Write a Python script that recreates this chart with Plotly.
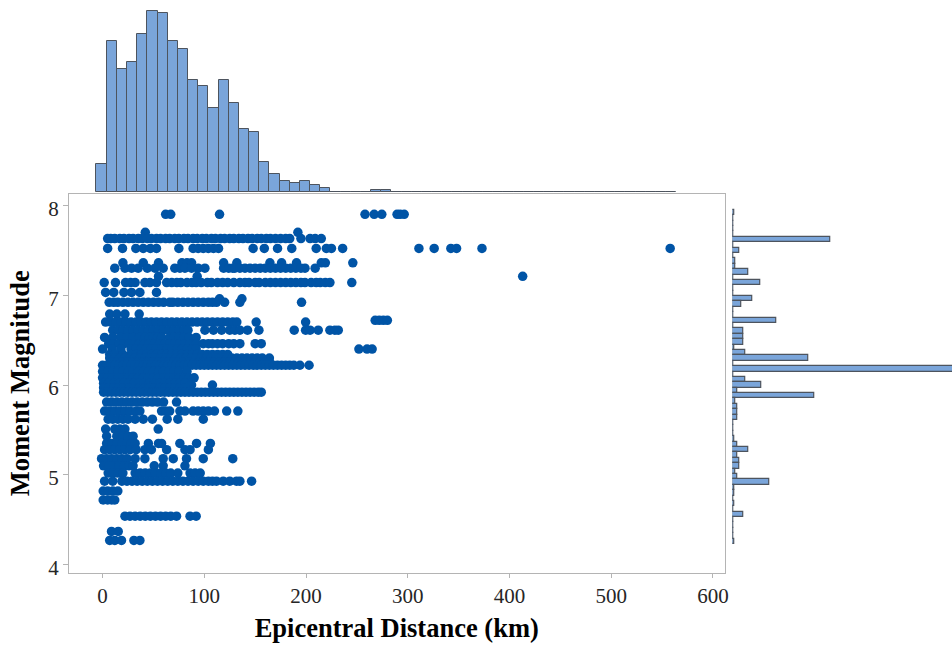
import plotly.graph_objects as go

# Top histogram: epicentral distance bins (10 km wide), left edge of first bin -6 km
dist_bin_centers = [-1, 9, 19, 29, 39, 49, 59, 69, 79, 89, 99, 109, 119, 129, 139, 149, 159, 169, 179, 189, 199, 209, 219,
                    229, 239, 249, 259, 269, 279, 289, 299, 309, 319, 329, 339, 349, 359, 369, 379, 389, 399, 409, 419,
                    429, 439, 449, 459, 469, 479, 489, 499, 509, 519, 529, 539, 549, 559]
dist_counts = [28, 151, 123, 130.7, 158.7, 181, 179, 151, 143.7, 112, 106.3, 84, 112, 89.7, 63.7, 60, 30, 18.7, 11.3, 9.3, 11.3, 7.7, 4,
               .3, .3, .3, .3, 2, 2, .3, .3, .3, .3, .3, .3, .3, .3, .3, .3, .3, .3, .3, .3,
               .3, .3, .3, .3, .3, .3, .3, .3, .3, .3, .3, .3, .3, .3]

# Right histogram: magnitude bins (0.06 wide)
mag_bin_centers = [7.92, 7.86, 7.80, 7.74, 7.68, 7.62, 7.56, 7.50, 7.44, 7.38, 7.32, 7.26, 7.20, 7.14, 7.08, 7.02, 6.96, 6.90, 6.84,
                   6.78, 6.72, 6.66, 6.60, 6.54, 6.48, 6.42, 6.36, 6.30, 6.24, 6.18, 6.12, 6.06, 6.00, 5.94, 5.88, 5.82, 5.76,
                   5.70, 5.64, 5.58, 5.52, 5.46, 5.40, 5.34, 5.28, 5.22, 5.16, 5.10, 5.04, 4.98, 4.92, 4.86, 4.80, 4.74, 4.68,
                   4.62, 4.56, 4.50, 4.44, 4.38, 4.32, 4.26]
mag_counts = [1.7, 1, 1, 1, 1, 98.3, 1, 7, 1, 3, 3, 16.3, 1, 27.7, 1, 1, 20.3, 9, 1,
              1, 44.3, 1, 11, 11, 11, 2, 13, 76, 1, 240, 1, 13, 29.3, 5, 82, 3.3, 5,
              5, 5, 1, 1, 1, 1.7, 5, 16.3, 5, 7, 7, 3, 5, 37, 1.7, 1.7, 1, 1.7,
              1, 11, 1, 1, 1, 1, 1.7]

# Scatter rows: magnitude values and the distances (km) recorded at that magnitude
m790 = [62, 67, 115, 258, 267, 274.5, 289.5, 292.5, 296.5]
m770 = [42, 192]
m763 = [5, 8, 12, 17, 21, 26, 30, 35, 39, 44, 48, 53, 57, 62, 66, 71, 75, 80, 84, 89, 93, 98, 102, 107, 111, 116, 120, 125, 129,
        134, 138, 143, 147, 152, 156, 161, 165, 170, 175, 180, 184, 195, 204, 209, 215]
m752 = [5, 19.6, 32.7, 40, 47, 53, 75, 89, 94, 99, 104, 109, 114, 148, 159, 172, 186, 210, 220, 225, 236, 311, 326, 342.4, 348, 373, 558]
m736 = [20, 40, 55, 78, 83, 87.5, 119, 132, 164.5, 176, 190.7, 215, 219, 246]
m730 = [12, 22, 28.5, 35, 44, 51.5, 59.6, 71, 76, 81, 87.5, 94, 100.6, 119, 124, 128, 130, 135, 140, 145, 150, 155, 160, 165, 170, 175,
        180, 185, 190, 195, 199, 209]
m722 = [55, 93, 413]
m714 = [1.6, 12.7, 22.6, 27.5, 32, 41.6, 46.5, 53, 63, 68, 73, 77, 83, 88, 92, 97, 103, 107, 113, 118, 123, 129, 135, 140, 144, 150,
        154, 160, 165, 170, 175, 180, 185, 190, 195, 199, 205, 210, 214, 219, 223.5, 245]
m703 = [3, 11, 21, 28.5, 36.7, 53]
m696 = [115, 137]
m692 = [6.5, 11, 15, 20, 25, 30, 35, 40, 45, 50, 55, 60, 66, 69, 74, 79, 84, 89, 94, 99, 104, 108, 112, 120, 135, 195.6]
m679 = [7, 14, 22, 36]
m672 = [268, 272, 276, 280]
m670 = [3, 8, 13, 18, 23, 28, 33, 38, 43, 48, 53, 58, 63, 68, 73, 78, 83, 88, 93, 98, 103, 108, 113, 118, 123, 128, 132, 151, 199.6]
m661 = [10, 15, 20, 25, 30, 35, 40, 45, 50, 55, 60, 65, 70, 75, 80, 84, 100.6, 109, 117, 125, 130, 135, 142.5, 153.7, 188.4, 199.6, 204,
        212, 223.5, 228.4, 231.7]
m653 = [2, 10, 18, 24, 30, 36, 42, 46, 50, 54, 58, 66, 70, 75, 80, 85, 92]
m646 = [6, 11, 16, 21, 26, 31, 36, 41, 46, 51, 56, 61, 66, 71, 76, 81, 86, 92, 99, 104, 108, 113, 118, 124, 129, 135, 150, 156]
m640 = [0, 9.5, 18, 28, 33, 38, 43, 48, 53, 58, 63, 68, 73, 78, 83, 88, 92, 252, 260, 265]
m634 = [7, 12, 20, 28, 33, 38, 43, 48, 53, 58, 63, 68, 73, 78, 83, 88, 93, 98, 103, 108, 113, 118, 123]
m630 = [7, 12, 17, 22, 27, 32, 37, 42, 47, 52, 57, 62, 67, 72, 77, 82, 87, 92, 97, 102, 107, 112, 117, 122, 127, 132, 137, 142, 147,
        152, 157, 164]
m626 = [10, 15, 20, 25, 30, 35, 40, 45, 50, 55, 60, 65, 70, 75, 80, 85, 90, 95, 100, 105, 110, 115, 120, 125, 130, 135, 140, 145,
        150, 155, 160, 164]
m622 = [0, 4, 8, 12, 16, 20, 24, 28, 32, 36, 40, 44, 48, 52, 56, 60, 64, 68, 72, 76, 80, 84, 88, 92, 96, 100, 104, 108, 112, 116, 120,
        124, 128, 132, 136, 140, 144, 148, 152, 156, 160, 164, 168, 172, 176, 180, 184, 188, 194, 203]
m615 = [0, 5, 10, 15, 20, 25, 30, 35, 40, 45, 50, 55, 60, 65, 70, 75, 83]
m608 = [0, 5, 10, 15, 20, 25, 30, 35, 40, 45, 50, 55, 60, 65, 70, 75, 80, 85, 90]
m602 = [1, 6, 11, 16, 21, 26, 31, 36, 41, 46, 51, 56, 61, 66, 71, 76, 81]
m600 = [87.5, 108]
m597 = [1, 6, 11, 16, 21, 26, 31, 36, 41, 46, 51, 56, 61, 66, 71, 76, 81]
m592 = [1, 5, 9, 13, 17, 21, 25, 29, 33, 37, 41, 45, 49, 53, 57, 61, 65, 69, 73, 77, 81, 85, 89, 93, 97, 101, 105, 109, 113, 117, 121,
        125, 129, 133, 137, 141, 145, 149, 153, 156]
m581 = [4, 9, 14, 19, 24, 29, 34, 39, 44, 49, 54, 60, 72.7]
m571 = [2, 7, 12, 17, 22, 27, 33, 36.7, 58, 62, 66, 76, 81, 89, 94, 99, 104, 110, 122, 133]
m562 = [5.5, 10, 15, 20, 25, 32, 40, 49, 63.5, 74, 99]
m551 = [3, 12, 17, 22, 54.7]
m543 = [4, 14, 20, 25, 30]
m535 = [4, 9, 14, 19, 24, 28, 32, 45, 55, 58, 76, 92.4, 106]
m528 = [2, 7, 12, 17, 22, 27, 33, 41.6, 48, 63, 81, 86, 104]
m518 = [-1, 4, 9, 14, 19, 24, 32, 41.6, 59.6, 69.5, 82.5, 99, 128]
m510 = [1, 6, 11, 16, 21, 26, 30, 50.8, 59.6, 81]
m502 = [5.5, 10, 15, 20, 32, 37, 42, 47, 52, 57, 62, 67, 74, 86, 91, 96]
m493 = [2, 10, 19, 24, 29, 34, 39, 44, 49, 54, 59, 64, 69, 74, 79, 84, 89, 94, 99, 104, 108, 112, 118.6, 125, 131.7, 135, 146.5]
m482 = [0.6, 5, 10, 15]
m472 = [0.6, 5, 9, 12]
m454 = [22, 27, 32, 37, 42, 47, 52, 57, 62, 67, 72.7, 86, 92]
m437 = [8.8, 15.4]
m427 = [7, 12, 18.6, 30.8, 36.7]

scatter_rows = [
    (7.90, m790), (7.70, m770), (7.63, m763), (7.52, m752), (7.36, m736), (7.30, m730), (7.21, m722), (7.14, m714),
    (7.03, m703), (6.96, m696), (6.92, m692), (6.79, m679), (6.72, m672), (6.70, m670), (6.61, m661), (6.53, m653),
    (6.46, m646), (6.40, m640), (6.34, m634), (6.30, m630), (6.26, m626), (6.22, m622), (6.15, m615), (6.08, m608),
    (6.02, m602), (6.00, m600), (5.97, m597), (5.92, m592), (5.81, m581), (5.71, m571), (5.62, m562), (5.51, m551),
    (5.43, m543), (5.35, m535), (5.28, m528), (5.18, m518), (5.10, m510), (5.02, m502), (4.93, m493), (4.82, m482),
    (4.72, m472), (4.54, m454), (4.37, m437), (4.27, m427),
]
scatter_x = [d for _, row in scatter_rows for d in row]
scatter_y = [m for m, row in scatter_rows for _ in row]

W, H = 952, 648
BAR_FILL = "#7aa5da"
BAR_LINE = "#4d545e"
FRAME = "#b4b4b4"
FONT = "Liberation Serif"
TICK_TEXT = "#262626"

fig = go.Figure()
fig.add_trace(go.Scatter(x=scatter_x, y=scatter_y, mode="markers",
                         marker=dict(size=9.5, color="#0054a6", line=dict(width=0)),
                         xaxis="x", yaxis="y", showlegend=False))
fig.add_trace(go.Bar(x=dist_bin_centers, y=dist_counts, width=10, cliponaxis=False,
                     marker=dict(color=BAR_FILL, line=dict(color=BAR_LINE, width=1)),
                     xaxis="x2", yaxis="y2", showlegend=False))
fig.add_trace(go.Bar(y=mag_bin_centers, x=mag_counts, width=0.06, orientation="h", cliponaxis=False,
                     marker=dict(color=BAR_FILL, line=dict(color=BAR_LINE, width=1.2)),
                     xaxis="x3", yaxis="y3", showlegend=False))

xr = [-33, 611.4]
yr = [3.913, 8.126]
xdom = [69 / W, 724.5 / W]
ydom = [1 - 572.5 / H, 1 - 194 / H]
fig.update_layout(
    template="none",
    width=W, height=H, margin=dict(l=0, r=0, t=0, b=0, pad=0), autosize=False,
    paper_bgcolor="white", plot_bgcolor="white",
    font=dict(family=FONT, color=TICK_TEXT),
    xaxis=dict(domain=xdom, range=xr, tickvals=[0, 100, 200, 300, 400, 500, 600], showgrid=False, zeroline=False, automargin=False,
               showline=True, mirror=True, linecolor=FRAME, linewidth=1.3, ticks="outside", ticklen=4, tickcolor=FRAME,
               tickfont=dict(size=21, family=FONT, color=TICK_TEXT),
               title=dict(text="<b>Epicentral Distance (km)</b>", font=dict(size=26.5, family=FONT, color="black"), standoff=11)),
    yaxis=dict(domain=ydom, range=yr, tickvals=[4, 5, 6, 7, 8], showgrid=False, zeroline=False, automargin=False,
               showline=True, mirror=True, linecolor=FRAME, linewidth=1.3, ticks="outside", ticklen=5, tickcolor=FRAME,
               tickfont=dict(size=21, family=FONT, color=TICK_TEXT), ticklabelshift=3,
               title=dict(text="<b>Moment Magnitude</b>", font=dict(size=26.5, family=FONT, color="black"), standoff=10)),
    xaxis2=dict(domain=xdom, range=xr, visible=False, anchor="y2", automargin=False),
    yaxis2=dict(domain=[1 - 192.3 / H, 1], range=[0, 192.3], visible=False, anchor="x2", automargin=False),
    xaxis3=dict(domain=[732.3 / W, 1], range=[0, 219.7], visible=False, anchor="y3", automargin=False),
    yaxis3=dict(domain=ydom, range=yr, visible=False, anchor="x3", automargin=False),
    bargap=0,
)

fig.write_html("out.html", config={"displayModeBar": False},
               post_script="document.body.style.margin='0';document.body.style.overflow='hidden';")
